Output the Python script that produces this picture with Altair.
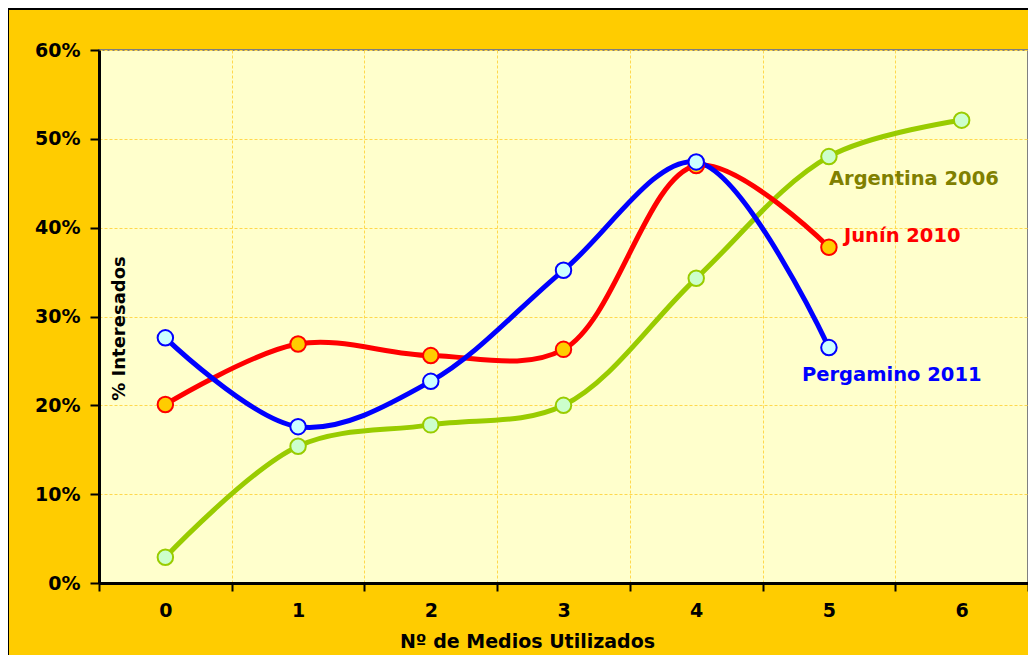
import altair as alt
import pandas as pd

categories = ["0", "1", "2", "3", "4", "5", "6"]
series_names = ["Argentina 2006", "Junín 2010", "Pergamino 2011"]
argentina_2006 = [0.029, 0.154, 0.178, 0.200, 0.343, 0.480, 0.521]
junin_2010 = [0.201, 0.269, 0.256, 0.263, 0.470, 0.378]
pergamino_2011 = [0.276, 0.176, 0.227, 0.352, 0.474, 0.265]
y_ticks = [0, 0.1, 0.2, 0.3, 0.4, 0.5, 0.6]

line_colors = ["#99CC00", "#FF0000", "#0000FF"]
marker_fills = ["#CCFFCC", "#FFCC00", "#CCFFFF"]
label_colors = ["#808000", "#FF0000", "#0000FF"]
label_cats = ["5", "5", "5"]
label_vals = [0.455, 0.391, 0.234]
label_dx = [0, 15, -27]

rows = []
for name, vals in zip(series_names, [argentina_2006, junin_2010, pergamino_2011]):
    for i, v in enumerate(vals):
        rows.append({"series": name, "n": categories[i], "value": v})
df = pd.DataFrame(rows)

FONT = "DejaVu Sans"

x_enc = alt.X(
    "n:O",
    bandPosition=0.5,
    scale=alt.Scale(type="band", domain=categories, paddingInner=0, paddingOuter=0),
    axis=alt.Axis(
        title="Nº de Medios Utilizados",
        labelAngle=0,
        tickBand="extent",
        grid=True,
        gridColor="#FFD84D",
        gridDash=[3, 2],
        gridWidth=1,
        domainColor="black",
        domainWidth=3,
        tickColor="black",
        tickWidth=2,
        tickSize=8,
        labelFont=FONT,
        labelFontSize=19,
        labelFontWeight="bold",
        labelColor="black",
        labelPadding=10,
        titleFont=FONT,
        titleFontSize=19,
        titleFontWeight="bold",
        titleColor="black",
        titleX=428,
        titleY=64,
        titleBaseline="alphabetic",
    ),
)

y_enc = alt.Y(
    "value:Q",
    scale=alt.Scale(domain=[0, 0.6], nice=False),
    axis=alt.Axis(
        values=y_ticks,
        format=".0%",
        title="% Interesados",
        grid=True,
        gridColor="#FFD84D",
        gridDash=[3, 2],
        gridWidth=1,
        domainColor="black",
        domainWidth=3,
        tickColor="black",
        tickWidth=2,
        tickSize=9,
        labelFont=FONT,
        labelFontSize=19,
        labelFontWeight="bold",
        labelColor="black",
        labelPadding=10,
        titleFont=FONT,
        titleFontSize=18,
        titleFontWeight="bold",
        titleColor="black",
        titleAngle=270,
        titleX=29,
        titleY=278,
        titleBaseline="bottom",
        titleAlign="center",
    ),
)

base = alt.Chart(df)

lines = base.mark_line(interpolate="catmull-rom", strokeWidth=5).encode(
    x=x_enc,
    y=y_enc,
    color=alt.Color("series:N", scale=alt.Scale(domain=series_names, range=line_colors), legend=None),
)

points = base.mark_point(filled=True, shape="circle", size=240, strokeWidth=2, opacity=1).encode(
    x=x_enc,
    y=y_enc,
    fill=alt.Fill("series:N", scale=alt.Scale(domain=series_names, range=marker_fills), legend=None),
    stroke=alt.Stroke("series:N", scale=alt.Scale(domain=series_names, range=line_colors), legend=None),
)

label_layers = []
for name, cat, val, dx, col in zip(series_names, label_cats, label_vals, label_dx, label_colors):
    ldf = pd.DataFrame({"n": [cat], "value": [val], "label": [name]})
    label_layers.append(
        alt.Chart(ldf).mark_text(
            align="left", baseline="middle", dx=dx, font=FONT, fontSize=19.5,
            fontWeight="bold", color=col
        ).encode(x=alt.X("n:O", bandPosition=0.5), y=alt.Y("value:Q"), text="label:N")
    )

border = alt.Chart(pd.DataFrame({"a": [0]})).mark_rect(
    filled=False, stroke="black", strokeWidth=2
).encode(x=alt.value(-91), x2=alt.value(1300), y=alt.value(-41), y2=alt.value(900))

chart = alt.layer(lines, points, *label_layers, border).properties(
    width=929,
    height=533,
    background="#FFCC00",
    padding={"left": 91, "top": 42, "right": 0, "bottom": 72},
    autosize=alt.AutoSizeParams(type="none"),
).configure_view(fill="#FFFFCC", stroke="#808080", strokeWidth=2)

chart.save("out.html", embed_options={"renderer": "svg", "actions": False})
